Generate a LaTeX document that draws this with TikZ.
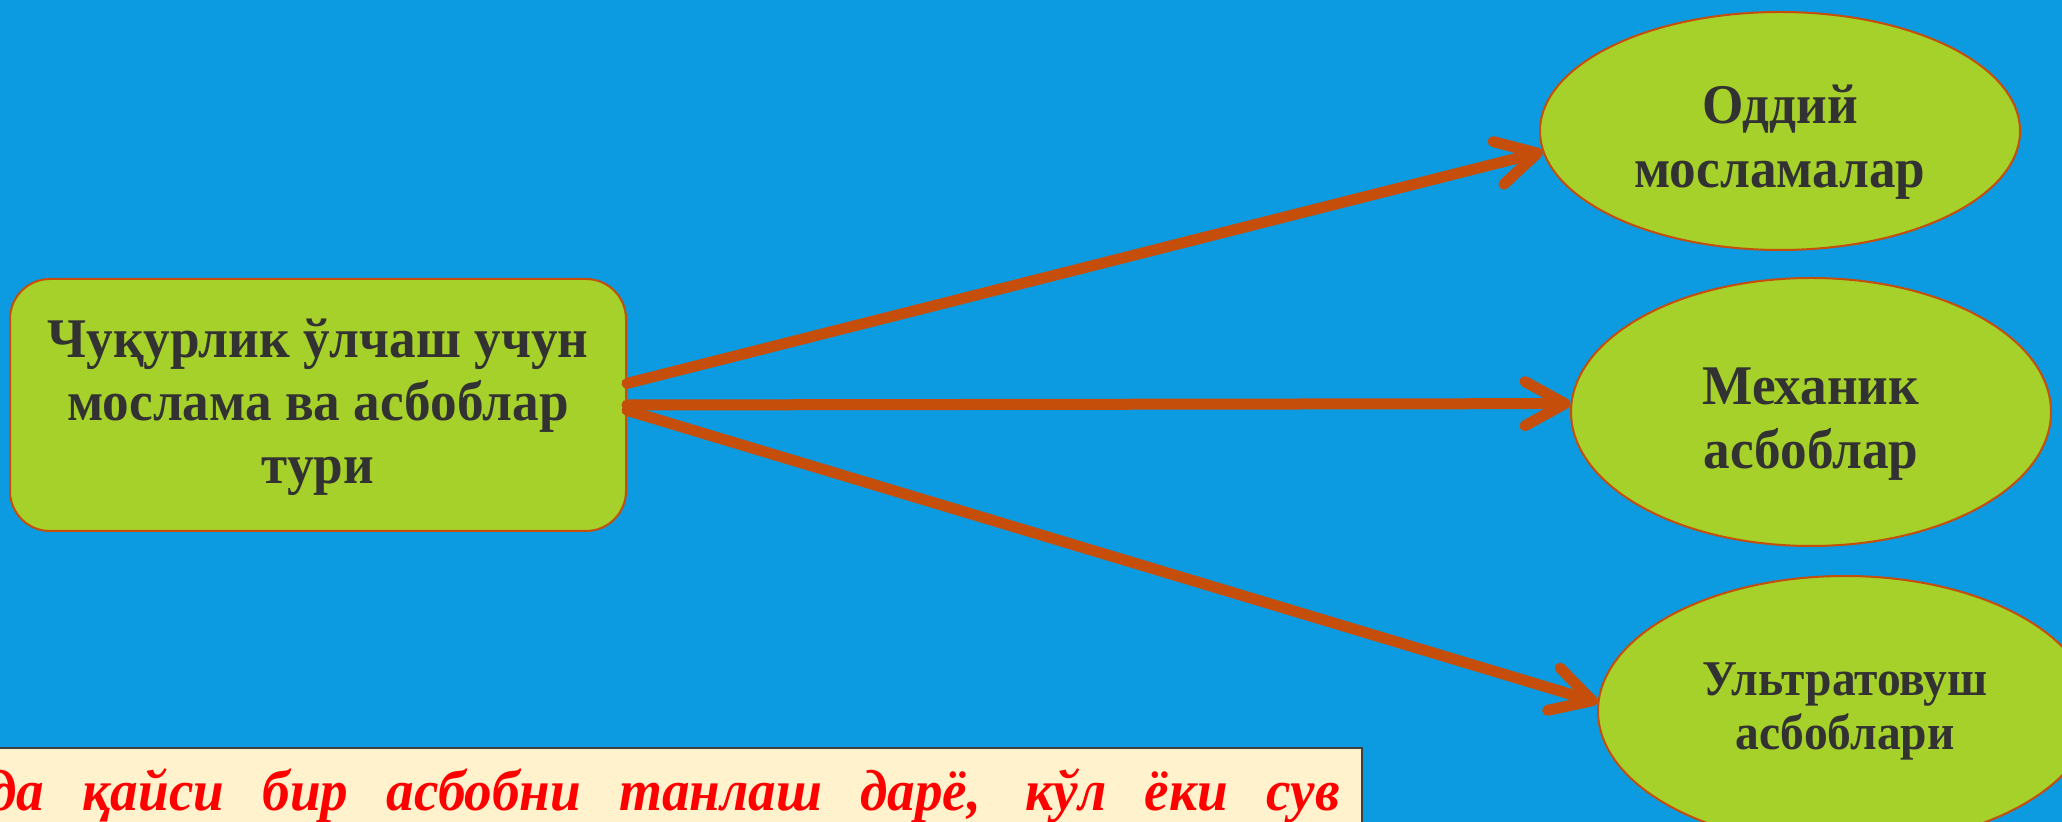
\documentclass[tikz,border=0pt]{standalone}
\usepackage{fontspec}
\setmainfont{Liberation Serif}[FakeStretch=0.95]
\usetikzlibrary{shapes.geometric, arrows.meta, positioning}
\definecolor{skyblue}{RGB}{12,155,224}
\definecolor{leafgreen}{RGB}{166,208,42}
\definecolor{rustorange}{RGB}{197,78,10}
\definecolor{notecream}{RGB}{255,242,204}
\definecolor{darktext}{RGB}{50,50,50}

\begin{document}
\begin{tikzpicture}[x=0.5pt, y=-0.5pt,
    rootbox/.style={draw=rustorange, line width=1pt, fill=leafgreen, rounded corners=20pt, minimum width=308pt, minimum height=126pt, align=center, text=darktext, font=\fontsize{28}{31.5}\selectfont\bfseries},
    leaf/.style={ellipse, draw=rustorange, line width=1pt, fill=leafgreen, inner sep=0pt, minimum width=240pt, align=center, text=darktext, font=\fontsize{28}{32}\selectfont\bfseries},
    notebox/.style={draw=black!75, line width=1pt, fill=notecream},
    arr/.style={-{Straight Barb[length=20pt, width=22pt, round]}, line width=5.5pt, draw=rustorange, line cap=round}
]
    \useasboundingbox (0,0) rectangle (2062,822);
    \clip (0,0) rectangle (2062,822);
    \fill[skyblue] (0,0) rectangle (2062,822);

    \node[rootbox] (root) at (318,405) {\rule{0pt}{22pt}Чуқурлик ўлчаш учун\\мослама ва асбоблар\\тури};
    \node[leaf, minimum height=119pt] (simple) at (1780,131) {\rule{0pt}{30pt}Оддий\\мосламалар};
    \node[leaf, minimum height=134pt] (mech) at (1811,412) {\rule{0pt}{30pt}Механик\\асбоблар};
    \node[leaf, minimum height=135pt, minimum width=247pt, font=\fontsize{25}{27}\selectfont\bfseries] (ultra) at (1845,711) {Ультратовуш\\асбоблари};

    \draw[arr] (root.4) -- (simple.185);
    \draw[arr] (root.east) -- (mech.178);
    \draw[arr] (root.-1) -- (ultra.178);

    % note strip at the bottom
    \draw[notebox] (-10,748) rectangle (1362,840);
    \node[anchor=base east, inner sep=0pt, text=red, font=\fontsize{29}{30}\selectfont\bfseries\itshape] (note) at (1340,811) {\makebox[675pt][s]{да қайси бир асбобни танлаш дарё, кўл ёки сув}};
\end{tikzpicture}
\end{document}
